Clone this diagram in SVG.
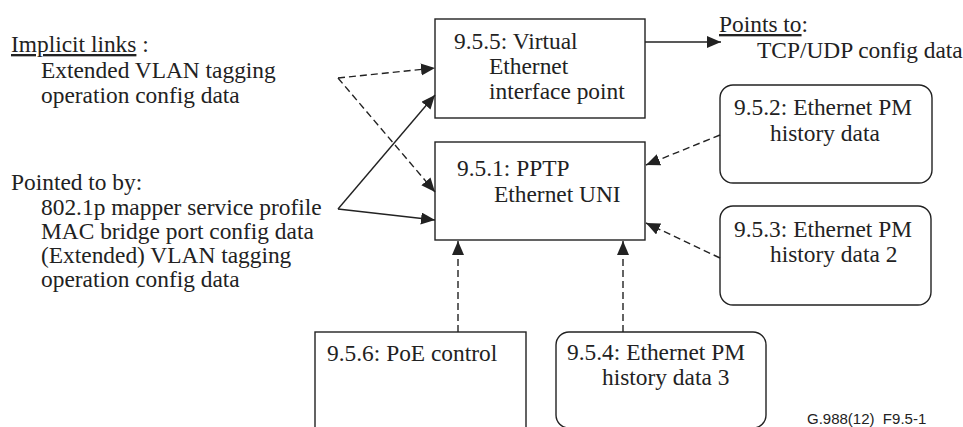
<svg xmlns="http://www.w3.org/2000/svg" width="963" height="427" viewBox="0 0 963 427">
<style>
text{font-family:"Liberation Serif","Times New Roman",serif;font-size:23.4px;fill:#222}
.box{fill:#fff;stroke:#222;stroke-width:1.4}
.c{fill:none;stroke:#222;stroke-width:1.4}
.d{stroke-dasharray:7 4}
.note{font-family:"Liberation Sans",Arial,sans-serif;font-size:15px;white-space:pre}
</style>
<defs>
<marker id="ah" markerUnits="userSpaceOnUse" markerWidth="15" markerHeight="13" refX="14" refY="6" orient="auto">
<path d="M0,0 L14,6 L0,12 z" fill="#222"/>
</marker>
</defs>
<rect width="963" height="427" fill="#fff"/>
<g id="implicit-links">
<text x="11" y="52"><tspan text-decoration="underline">Implicit links</tspan> :</text>
<text x="41" y="78">Extended VLAN tagging</text>
<text x="41" y="103">operation config data</text>
</g>
<g id="pointed-to-by">
<text x="11" y="190">Pointed to by:</text>
<text x="41" y="215">802.1p mapper service profile</text>
<text x="41" y="239">MAC bridge port config data</text>
<text x="41" y="263">(Extended) VLAN tagging</text>
<text x="41" y="287">operation config data</text>
</g>
<g id="points-to">
<text x="719" y="32"><tspan text-decoration="underline">Points to</tspan>:</text>
<text x="757" y="58">TCP/UDP config data</text>
</g>
<g id="n955">
<rect class="box" x="435" y="19" width="210" height="99"/>
<text x="454" y="49">9.5.5: Virtual</text>
<text x="489" y="74">Ethernet</text>
<text x="489" y="99">interface point</text>
</g>
<g id="n951">
<rect class="box" x="435" y="142" width="210" height="98"/>
<text x="457" y="176">9.5.1: PPTP</text>
<text x="494" y="202">Ethernet UNI</text>
</g>
<g id="n952">
<rect class="box" x="720" y="85" width="212" height="98" rx="13"/>
<text x="734" y="115">9.5.2: Ethernet PM</text>
<text x="770" y="141">history data</text>
</g>
<g id="n953">
<rect class="box" x="720" y="206" width="211" height="99" rx="13"/>
<text x="734" y="237">9.5.3: Ethernet PM</text>
<text x="770" y="262">history data 2</text>
</g>
<g id="n956">
<rect class="box" x="315" y="332" width="211" height="120"/>
<text x="327" y="361">9.5.6: PoE control</text>
</g>
<g id="n954">
<rect class="box" x="556" y="332" width="210" height="96" rx="13"/>
<text x="567" y="360">9.5.4: Ethernet PM</text>
<text x="602" y="385">history data 3</text>
</g>
<g id="connectors">
<line class="c" x1="645" y1="42" x2="721" y2="42" marker-end="url(#ah)"/>
<line class="c d" x1="338" y1="78" x2="435" y2="68" marker-end="url(#ah)"/>
<line class="c d" x1="338" y1="78" x2="435" y2="192" marker-end="url(#ah)"/>
<line class="c" x1="338" y1="209" x2="435" y2="95" marker-end="url(#ah)"/>
<line class="c" x1="338" y1="209" x2="435" y2="220" marker-end="url(#ah)"/>
<line class="c d" x1="720" y1="135" x2="646" y2="165" marker-end="url(#ah)"/>
<line class="c d" x1="720" y1="258" x2="646" y2="223" marker-end="url(#ah)"/>
<line class="c d" x1="623" y1="332" x2="623" y2="241" marker-end="url(#ah)"/>
<line class="c d" x1="458" y1="332" x2="458" y2="241" marker-end="url(#ah)"/>
</g>
<text class="note" x="807" y="424">G.988(12)  F9.5-1</text>
</svg>
